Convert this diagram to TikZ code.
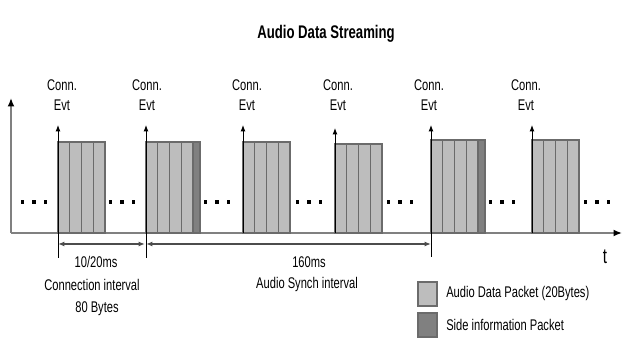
\documentclass[tikz,border=0pt]{standalone}
\usepackage{fontspec}
\setmainfont{Liberation Sans}[FakeStretch=0.72]
\usetikzlibrary{arrows.meta}
\definecolor{pktfill}{gray}{0.74}
\definecolor{pktline}{gray}{0.42}
\definecolor{sidefill}{gray}{0.5}
\definecolor{axisgray}{gray}{0.5}

\tikzset{
  lbl/.style={font=\fontsize{11}{14.5}\selectfont, align=center, inner sep=0pt},
  evt/.style={-{Latex[length=4.5pt,width=3.5pt]}, line width=0.7pt, black},
  axis/.style={-{Latex[length=6pt,width=5pt,color=black]}, line width=1.4pt, axisgray},
  dim/.style={{Latex[length=4.5pt,width=3.5pt]}-{Latex[length=4.5pt,width=3.5pt]}, line width=1.3pt, black!70},
  tickline/.style={line width=0.6pt, black},
  bar/.style={draw=pktline, fill=pktfill, line width=0.8pt},
  sidebar/.style={draw=pktline, fill=sidefill, line width=0.8pt},
}

% packet: x, top, with side info (0/1)
\newcommand{\pkt}[3]{%
  \foreach \i in {0,...,3}
    \draw[bar] (#1+\i*11.75,233) rectangle (#1+\i*11.75+11.75,#2);
  \ifnum#3=1 \draw[sidebar] (#1+47,233) rectangle (#1+54,#2); \fi
  \draw[pktline,line width=1.5pt] (#1,#2) -- (#1+47+#3*7,#2);
}

\begin{document}
\begin{tikzpicture}[x=0.025cm,y=-0.025cm]
\useasboundingbox (0,0) rectangle (640,360);

\node[font=\bfseries\fontsize{13}{15}\selectfont] (title) at (326,34) {Audio Data Streaming};

%axes
\coordinate (origin) at (11,233);
\coordinate (ytop) at (11,98);
\coordinate (xend) at (622,233);
\draw[axis] (origin) -- (ytop);
\draw[axis] (origin) -- (xend);
\node[font=\fontsize{15}{17}\selectfont] (tlbl) at (605,257) {t};

%packets
\pkt{58}{142}{0}
\pkt{146}{142}{1}
\pkt{243}{142}{0}
\pkt{335}{144}{0}
\pkt{431}{140}{1}
\pkt{532}{140}{0}

%connection events
\coordinate (ev1) at (58,233);  \coordinate (tip1) at (58,125);
\coordinate (ev2) at (146,233); \coordinate (tip2) at (146,125);
\coordinate (ev3) at (243,233); \coordinate (tip3) at (243,125);
\coordinate (ev4) at (335,233); \coordinate (tip4) at (335,128);
\coordinate (ev5) at (431,233); \coordinate (tip5) at (431,125);
\coordinate (ev6) at (532,233); \coordinate (tip6) at (532,125);
\draw[evt] (ev1) -- (tip1);
\draw[evt] (ev2) -- (tip2);
\draw[evt] (ev3) -- (tip3);
\draw[evt] (ev4) -- (tip4);
\draw[evt] (ev5) -- (tip5);
\draw[evt] (ev6) -- (tip6);
\node[lbl] (conn1) at (62,95) {Conn.\\Evt};
\node[lbl] (conn2) at (147,95) {Conn.\\Evt};
\node[lbl] (conn3) at (247,95) {Conn.\\Evt};
\node[lbl] (conn4) at (338,95) {Conn.\\Evt};
\node[lbl] (conn5) at (429,95) {Conn.\\Evt};
\node[lbl] (conn6) at (526,95) {Conn.\\Evt};

%dots
\foreach \d in {34,122,217,309,400,502,597}
  \foreach \k in {-1,0,1}
    \fill (\d+\k*11.5-1.8,200.5) rectangle (\d+\k*11.5+1.8,204);

%intervals
\coordinate (tk1) at (58,258);
\coordinate (tk2) at (146,258);
\coordinate (tk5) at (431,257);
\draw[tickline] (ev1) -- (tk1);
\draw[tickline] (ev2) -- (tk2);
\draw[tickline] (ev5) -- (tk5);
\coordinate (d1a) at (58,244);
\coordinate (d1b) at (145,244);
\coordinate (d2a) at (146,244);
\coordinate (d2b) at (431,244);
\draw[dim] (d1a) -- (d1b);
\draw[dim] (d2a) -- (d2b);
\node[lbl] (ci1) at (96,262) {10/20ms};
\node[lbl] (ci2) at (92,285) {Connection interval};
\node[lbl] (ci3) at (97,309) {80 Bytes};
\node[lbl] (as1) at (309,262) {160ms};
\node[lbl] (as2) at (307,285) {Audio Synch interval};

%legend
\draw[bar] (418,282) rectangle (437,306);
\draw[pktline,line width=1.5pt] (418,282) -- (437,282);
\draw[sidebar] (418,313) rectangle (437,337);
\node[lbl,anchor=west] (leg1) at (446,294) {Audio Data Packet (20Bytes)};
\node[lbl,anchor=west] (leg2) at (446,325) {Side information Packet};

\end{tikzpicture}
\end{document}
